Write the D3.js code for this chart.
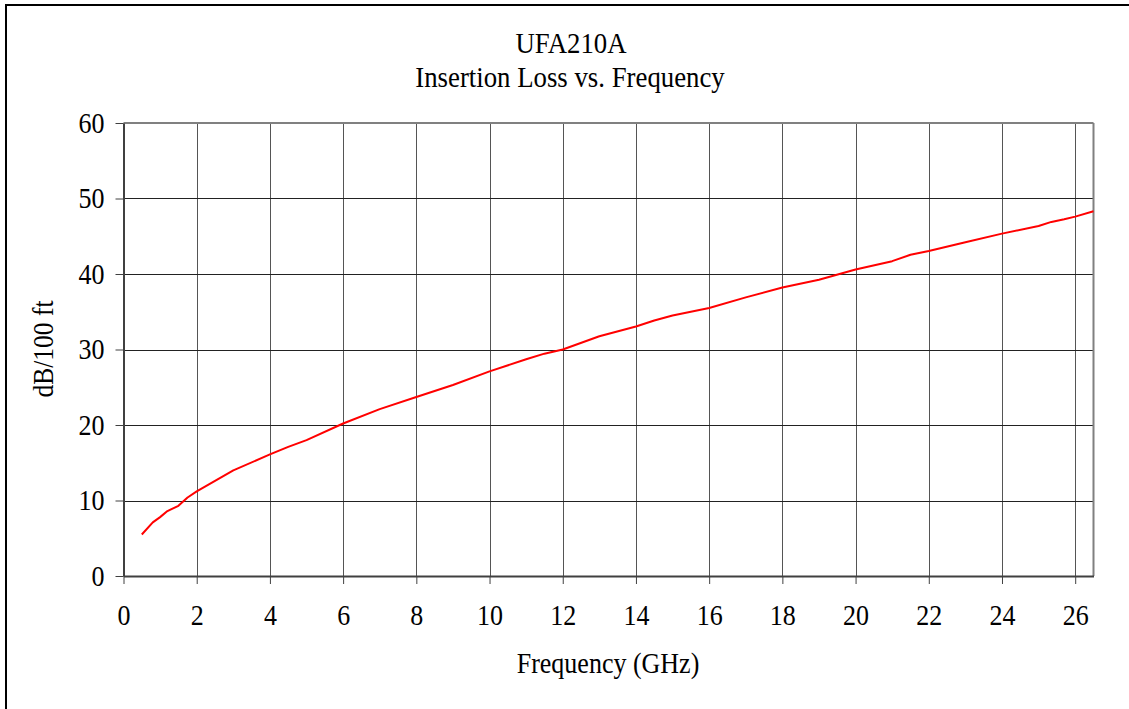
<!DOCTYPE html>
<html><head><meta charset="utf-8">
<script src="https://cdn.jsdelivr.net/npm/d3@7"></script>
<style>
html,body{margin:0;padding:0;background:#fff;}
svg{display:block;}
text{font-family:"Liberation Serif","Times New Roman",serif;fill:#000;}
</style></head>
<body>
<svg id="chart" width="1129" height="709"></svg>
<script>
const titleLines = ["UFA210A", "Insertion Loss vs. Frequency"];
const xLabel = "Frequency (GHz)";
const yLabel = "dB/100 ft";
const xTicks = [0,2,4,6,8,10,12,14,16,18,20,22,24,26];
const yTicks = [0,10,20,30,40,50,60];
const freq = [0.5,0.8,1.0,1.2,1.5,1.75,2.0,3.0,4.0,4.5,5,6,7,8,9,10,11,11.5,12,13,14,14.5,15,16,17,18,19,20,21,21.5,22,23,24,25,25.35,25.7,26,26.5];
const loss = [5.5,7.1,7.8,8.6,9.3,10.4,11.2,14.0,16.1,17.1,18.0,20.2,22.1,23.7,25.3,27.1,28.7,29.45,30.0,31.75,33.05,33.85,34.5,35.5,36.9,38.2,39.25,40.6,41.7,42.55,43.05,44.2,45.35,46.35,46.9,47.25,47.6,48.3];

const K = 1.12; // vertical stretch of the reference's serif glyphs
const svg = d3.select("#chart");
const L = 123.5, R = 1093.5, T = 123, B = 576;
const x = d3.scaleLinear().domain([0, 26.5]).range([L, R]);
const y = d3.scaleLinear().domain([0, 60]).range([B, T]);

// outer frame
svg.append("rect").attr("x",6).attr("y",5).attr("width",1140).attr("height",720)
  .attr("fill","none").attr("stroke","#000").attr("stroke-width",2);

// gridlines
const g = svg.append("g");
g.selectAll(".vg").data(xTicks.filter(d=>d>0)).enter().append("line")
  .attr("x1",d=>Math.round(x(d))+0.5).attr("x2",d=>Math.round(x(d))+0.5)
  .attr("y1",T).attr("y2",B).attr("stroke","#555").attr("stroke-width",1);
g.selectAll(".hg").data(yTicks.filter(d=>d>0 && d<60)).enter().append("line")
  .attr("y1",d=>Math.round(y(d))+0.5).attr("y2",d=>Math.round(y(d))+0.5)
  .attr("x1",L).attr("x2",R).attr("stroke","#222").attr("stroke-width",1);

// plot border top/right
svg.append("line").attr("x1",L).attr("x2",R).attr("y1",T).attr("y2",T).attr("stroke","#808080").attr("stroke-width",2);
svg.append("line").attr("x1",R).attr("x2",R).attr("y1",T).attr("y2",B).attr("stroke","#808080").attr("stroke-width",2);

// axes
const xAxis = d3.axisBottom(x).tickValues(xTicks).tickSize(8).tickSizeOuter(0).tickFormat(d3.format("d"));
const yAxis = d3.axisLeft(y).tickValues(yTicks).tickSize(8).tickSizeOuter(0).tickFormat(d3.format("d"));
const gx = svg.append("g").attr("transform",`translate(0,${B})`).call(xAxis);
const gy = svg.append("g").attr("transform",`translate(${L},0)`).call(yAxis);
[gx, gy].forEach(a=>{
  a.select(".domain").attr("stroke","#404040").attr("stroke-width",2);
  a.selectAll(".tick line").attr("stroke","#404040").attr("stroke-width",1);
  a.selectAll(".tick text").style("font-family","'Liberation Serif', serif").style("font-size","26px").attr("fill","#000");
});
gx.selectAll(".tick text").attr("dy","0").attr("y",0).attr("transform",`translate(0,49) scale(1,${K})`);
gy.selectAll(".tick text").attr("dy","0").attr("x",0).attr("transform",`translate(-19,9) scale(1,${K})`);

// line
const line = d3.line().x((d,i)=>x(freq[i])).y((d,i)=>y(loss[i]));
svg.append("path").datum(loss).attr("d",line).attr("fill","none")
  .attr("stroke","#ff0000").attr("stroke-width",2).attr("stroke-linejoin","round");

// titles
function txt(tx, ty, size, s, rot){
  svg.append("text").attr("transform",`translate(${tx},${ty})${rot?" rotate(-90)":""} scale(1,${K})`)
    .attr("text-anchor","middle").style("font-size",size+"px").text(s);
}
txt(571, 53, 26.8, titleLines[0]);
txt(570, 87, 26.8, titleLines[1]);
txt(608, 673, 26, xLabel);
txt(53, 349, 25.5, yLabel, true);
</script>
</body></html>
